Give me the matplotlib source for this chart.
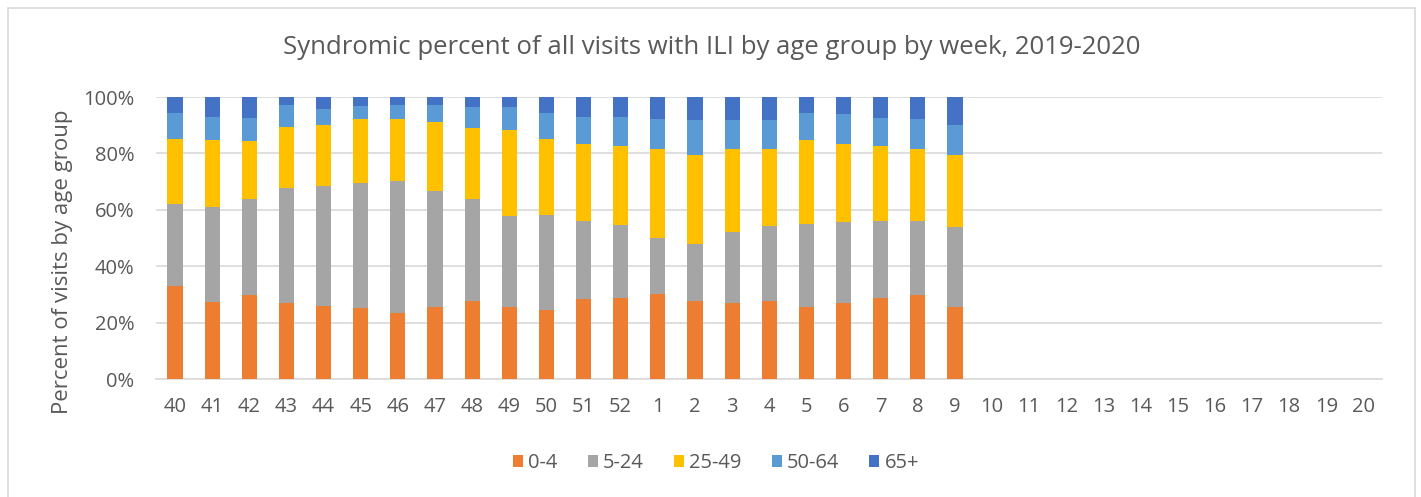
import matplotlib.pyplot as plt
import matplotlib.patches as mpatches
import numpy as np

weeks = ["40", "41", "42", "43", "44", "45", "46", "47", "48", "49", "50", "51", "52",
         "1", "2", "3", "4", "5", "6", "7", "8", "9", "10", "11", "12", "13", "14",
         "15", "16", "17", "18", "19", "20"]

# percent share of visits per age group (weeks 40..9 have data)
age_0_4 = [32.9, 27.2, 29.8, 27.0, 26.0, 25.1, 23.3, 25.7, 27.8, 25.7, 24.6, 28.3, 28.8,
           30.1, 27.5, 27.0, 27.8, 25.7, 27.0, 28.8, 29.8, 25.7]
age_5_24 = [29.2, 33.7, 33.9, 40.7, 42.4, 44.5, 46.8, 40.8, 35.9, 32.1, 33.6, 27.7, 25.9,
            20.0, 20.4, 25.3, 26.4, 29.3, 28.6, 27.1, 26.1, 28.1]
age_25_49 = [23.1, 23.7, 20.6, 21.6, 21.8, 22.5, 22.0, 24.6, 25.3, 30.6, 27.0, 27.4, 28.1,
             31.3, 31.6, 29.1, 27.2, 29.6, 27.8, 26.6, 25.8, 25.8]
age_50_64 = [9.2, 8.3, 8.2, 7.7, 5.7, 4.7, 4.9, 6.2, 7.3, 7.9, 9.2, 9.6, 10.2,
             10.7, 12.2, 10.3, 10.3, 9.8, 10.6, 10.2, 10.5, 10.3]
age_65 = [5.6, 7.1, 7.5, 3.0, 4.1, 3.2, 3.0, 2.7, 3.7, 3.7, 5.6, 7.0, 7.0,
          7.9, 8.3, 8.3, 8.3, 5.6, 6.0, 7.3, 7.8, 10.1]

groups = ["0-4", "5-24", "25-49", "50-64", "65+"]
colors = ["#ED7D31", "#A5A5A5", "#FFC000", "#5B9BD5", "#4472C4"]

plt.rcParams['font.family'] = ['Open Sans', 'DejaVu Sans']
txt = "#595959"

fig = plt.figure(figsize=(14.21, 4.97), dpi=100)
fig.patch.set_facecolor("white")
# chart frame
fig.patches.append(mpatches.Rectangle((8 / 1421, -0.05), 1407 / 1421, 1.05 - 8 / 497,
                                      transform=fig.transFigure, fill=False,
                                      edgecolor="#D9D9D9", linewidth=1.2))

ax = fig.add_axes([0.1101, 0.2374, 0.8625, 0.5674])

series = [age_0_4, age_5_24, age_25_49, age_50_64, age_65]
n = len(age_0_4)
x = np.arange(n)
bottom = np.zeros(n)
for vals, name, c in zip(series, groups, colors):
    v = np.array(vals) / 100
    ax.bar(x, v, width=0.41, bottom=bottom, color=c, label=name, zorder=3)
    bottom = bottom + v

ax.set_xlim(-0.5, len(weeks) - 0.5)
ax.set_ylim(0, 1)
ax.set_xticks(np.arange(len(weeks)))
ax.set_xticklabels(weeks)
yt = np.arange(0, 1.01, 0.2)
ax.set_yticks(yt)
ax.set_yticklabels([f"{int(round(t * 100))}%" for t in yt])
ax.tick_params(axis="x", length=0, labelsize=14.5, colors=txt, pad=13)
ax.tick_params(axis="y", length=0, labelsize=14.5, colors=txt, pad=16)
ax.grid(axis="y", color="#D9D9D9", linewidth=1.2, zorder=0)
for s in ["top", "right", "left"]:
    ax.spines[s].set_visible(False)
ax.spines["bottom"].set_color("#D9D9D9")
ax.spines["bottom"].set_linewidth(1.2)

ax.set_ylabel("Percent of visits by age group", fontsize=16, color=txt)
ax.yaxis.set_label_coords((73 - 156.4) / 1226, (379 - 262) / 282)
fig.text(712 / 1421, 1 - 47 / 497, "Syndromic percent of all visits with ILI by age group by week, 2019-2020",
         ha="center", va="center", fontsize=18.5, color=txt)

ax.legend(loc="center", bbox_to_anchor=(716 / 1421, 1 - 463 / 497), bbox_transform=fig.transFigure,
          ncol=5, frameon=False, fontsize=14.5, labelcolor=txt, handlelength=0.5,
          handleheight=0.5, handletextpad=0.25, columnspacing=1.5)

fig.savefig("out.png", dpi=100)
